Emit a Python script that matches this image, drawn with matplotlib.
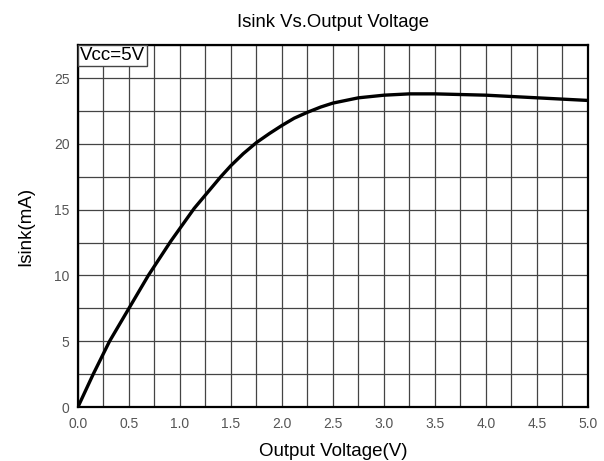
import matplotlib
matplotlib.use("Agg")
import matplotlib.pyplot as plt
import numpy as np

plt.rcParams['font.family'] = ['Liberation Sans', 'DejaVu Sans']

# Isink vs output voltage
voltage = [0, 0.15, 0.31, 0.5, 0.69, 0.91, 1.14, 1.4, 1.5, 1.62, 1.75, 1.88, 2.0, 2.12, 2.25,
           2.38, 2.5, 2.75, 3.0, 3.25, 3.5, 3.75, 4.0, 4.25, 4.5, 4.75, 5.0]
isink = [0, 2.5, 5, 7.5, 10, 12.6, 15.1, 17.5, 18.35, 19.25, 20.1, 20.8, 21.4, 21.95, 22.4,
         22.8, 23.1, 23.5, 23.7, 23.8, 23.8, 23.75, 23.7, 23.6, 23.5, 23.4, 23.3]

x_ticks = np.arange(0, 5.01, 0.5)
y_ticks = [0, 5, 10, 15, 20, 25]

fig = plt.figure(figsize=(6.04, 4.61), dpi=100)
ax = fig.add_axes([0.129, 0.117, 0.8445, 0.785])

ax.plot(voltage, isink, color='black', linewidth=2.4, solid_capstyle='round',
        solid_joinstyle='round', zorder=3)

ax.set_xlim(0, 5)
ax.set_ylim(0, 27.5)
ax.set_xticks(x_ticks)
ax.set_xticklabels([f"{v:.1f}" for v in x_ticks])
ax.set_yticks(y_ticks)
ax.set_xticks(np.arange(0, 5.01, 0.25), minor=True)
ax.set_yticks(np.arange(0, 27.6, 2.5), minor=True)
ax.grid(True, which='both', color='#444444', linewidth=0.9)
ax.tick_params(which='both', length=0, labelsize=10, labelcolor='#555555')
ax.tick_params(axis='x', pad=7)
ax.tick_params(axis='y', pad=6)

for s in ax.spines.values():
    s.set_linewidth(1.6)
    s.set_color('black')

ax.set_title("Isink Vs.Output Voltage", fontsize=13.3, pad=13)
ax.set_xlabel("Output Voltage(V)", fontsize=13.5, labelpad=9)
ax.set_ylabel("Isink(mA)", fontsize=13.5, labelpad=14)

ax.text(0.004, 0.995, "Vcc=5V", transform=ax.transAxes, ha='left', va='top',
        fontsize=13.5, zorder=4,
        bbox=dict(boxstyle='square,pad=0.12', facecolor='white',
                  edgecolor='#444444', linewidth=1))

fig.savefig("out.png", dpi=100)
